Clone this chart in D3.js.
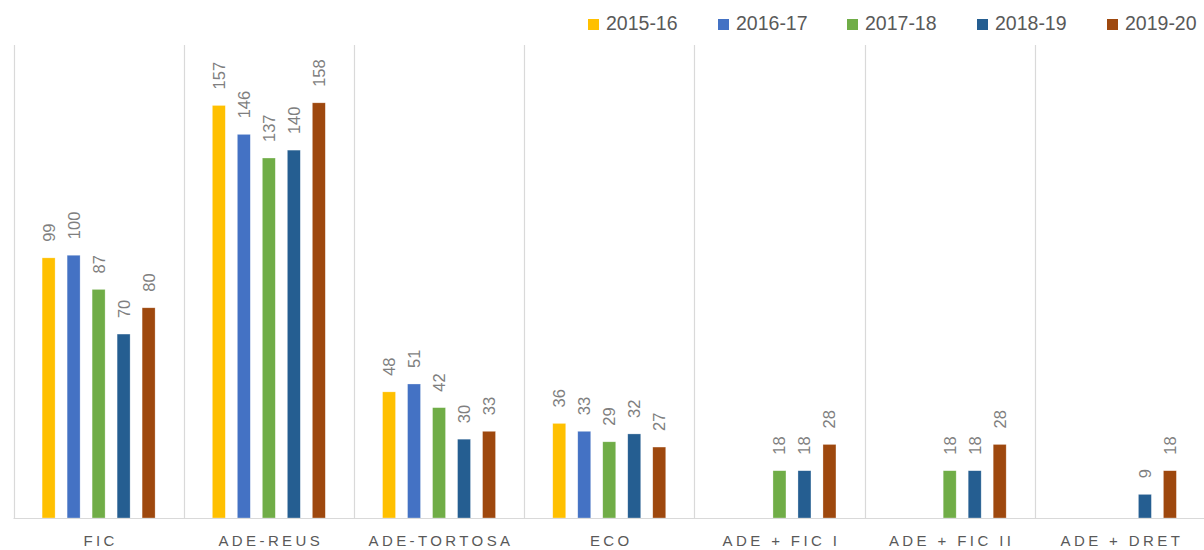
<!DOCTYPE html>
<html>
<head>
<meta charset="utf-8">
<script src="https://cdn.jsdelivr.net/npm/d3@7"></script>
<style>
  body { margin: 0; background: #fff; }
  svg { display: block; font-family: "Liberation Sans", Arial, sans-serif; }
</style>
</head>
<body>
<div id="chart"></div>
<script>
// data
var categories = ["FIC", "ADE-REUS", "ADE-TORTOSA", "ECO", "ADE + FIC I", "ADE + FIC II", "ADE + DRET"];
var seriesNames = ["2015-16", "2016-17", "2017-18", "2018-19", "2019-20"];
var seriesColors = ["#FFC000", "#4472C4", "#70AD47", "#255E91", "#9E480E"];
var v2015 = [99, 157, 48, 36, null, null, null];
var v2016 = [100, 146, 51, 33, null, null, null];
var v2017 = [87, 137, 42, 29, 18, 18, null];
var v2018 = [70, 140, 30, 32, 18, 18, 9];
var v2019 = [80, 158, 33, 27, 28, 28, 18];
var seriesValues = [v2015, v2016, v2017, v2018, v2019];

var svgWidth = 1204;
var svgHeight = 550;
var plot = { left: 13.5, right: 1205, top: 45, bottom: 518 };

var svg = d3.select("#chart")
  .append("svg")
  .attr("width", svgWidth)
  .attr("height", svgHeight);

var x0 = d3.scaleBand()
  .domain(categories)
  .range([plot.left, plot.right]);

var x1 = d3.scaleBand()
  .domain(seriesNames)
  .range([x0.bandwidth() / 2 - 62.5, x0.bandwidth() / 2 + 62.5])
  .paddingInner(0.48)
  .paddingOuter(0.24);

var y = d3.scaleLinear()
  .domain([0, 180])
  .range([plot.bottom, plot.top]);

// vertical separators between categories
var bounds = categories.map(c => x0(c)).concat([plot.right]);
svg.append("g")
  .selectAll("line")
  .data(bounds)
  .enter()
  .append("line")
  .attr("x1", d => Math.round(d) + 0.5)
  .attr("x2", d => Math.round(d) + 0.5)
  .attr("y1", plot.top)
  .attr("y2", plot.bottom)
  .attr("stroke", "#d9d9d9")
  .attr("stroke-width", 1.2);

// bars
var rows = [];
categories.forEach(function(c, i) {
  seriesNames.forEach(function(s, j) {
    var v = seriesValues[j][i];
    if (v !== null) rows.push({ cat: c, series: s, value: v, color: seriesColors[j] });
  });
});

var barGroup = svg.append("g");
barGroup.selectAll("rect")
  .data(rows)
  .enter()
  .append("rect")
  .attr("x", d => x0(d.cat) + x1(d.series))
  .attr("y", d => y(d.value))
  .attr("width", x1.bandwidth())
  .attr("height", d => y(0) - y(d.value))
  .attr("fill", d => d.color)
  .attr("stroke", "#ffffff")
  .attr("stroke-opacity", 0.5)
  .attr("stroke-width", 0.6);

// value labels, rotated
barGroup.selectAll("text")
  .data(rows)
  .enter()
  .append("text")
  .attr("transform", d => `translate(${x0(d.cat) + x1(d.series) + x1.bandwidth() / 2},${y(d.value) - 16})rotate(-90)`)
  .attr("dy", "0.36em")
  .attr("text-anchor", "start")
  .attr("font-size", "16.5px")
  .attr("fill", "#7f7f7f")
  .text(d => d.value);

// baseline
svg.append("line")
  .attr("x1", plot.left)
  .attr("x2", plot.right)
  .attr("y1", plot.bottom + 0.5)
  .attr("y2", plot.bottom + 0.5)
  .attr("stroke", "#d9d9d9")
  .attr("stroke-width", 1.2);

// category labels
svg.append("g")
  .selectAll("text")
  .data(categories)
  .enter()
  .append("text")
  .attr("x", d => x0(d) + x0.bandwidth() / 2 + 2)
  .attr("y", 546)
  .attr("text-anchor", "middle")
  .attr("font-size", "15px")
  .attr("letter-spacing", "3.4px")
  .attr("fill", "#595959")
  .text(d => d);

// legend
var legendX = [588, 718, 847, 977, 1107];
var legend = svg.append("g");
var items = legend.selectAll("g")
  .data(seriesNames)
  .enter()
  .append("g")
  .attr("transform", (d, i) => `translate(${legendX[i]},19)`);
items.append("rect")
  .attr("width", 11)
  .attr("height", 11)
  .attr("fill", (d, i) => seriesColors[i]);
items.append("text")
  .attr("x", 18)
  .attr("y", 11)
  .attr("font-size", "19.5px")
  .attr("fill", "#595959")
  .text(d => d);
</script>
</body>
</html>
